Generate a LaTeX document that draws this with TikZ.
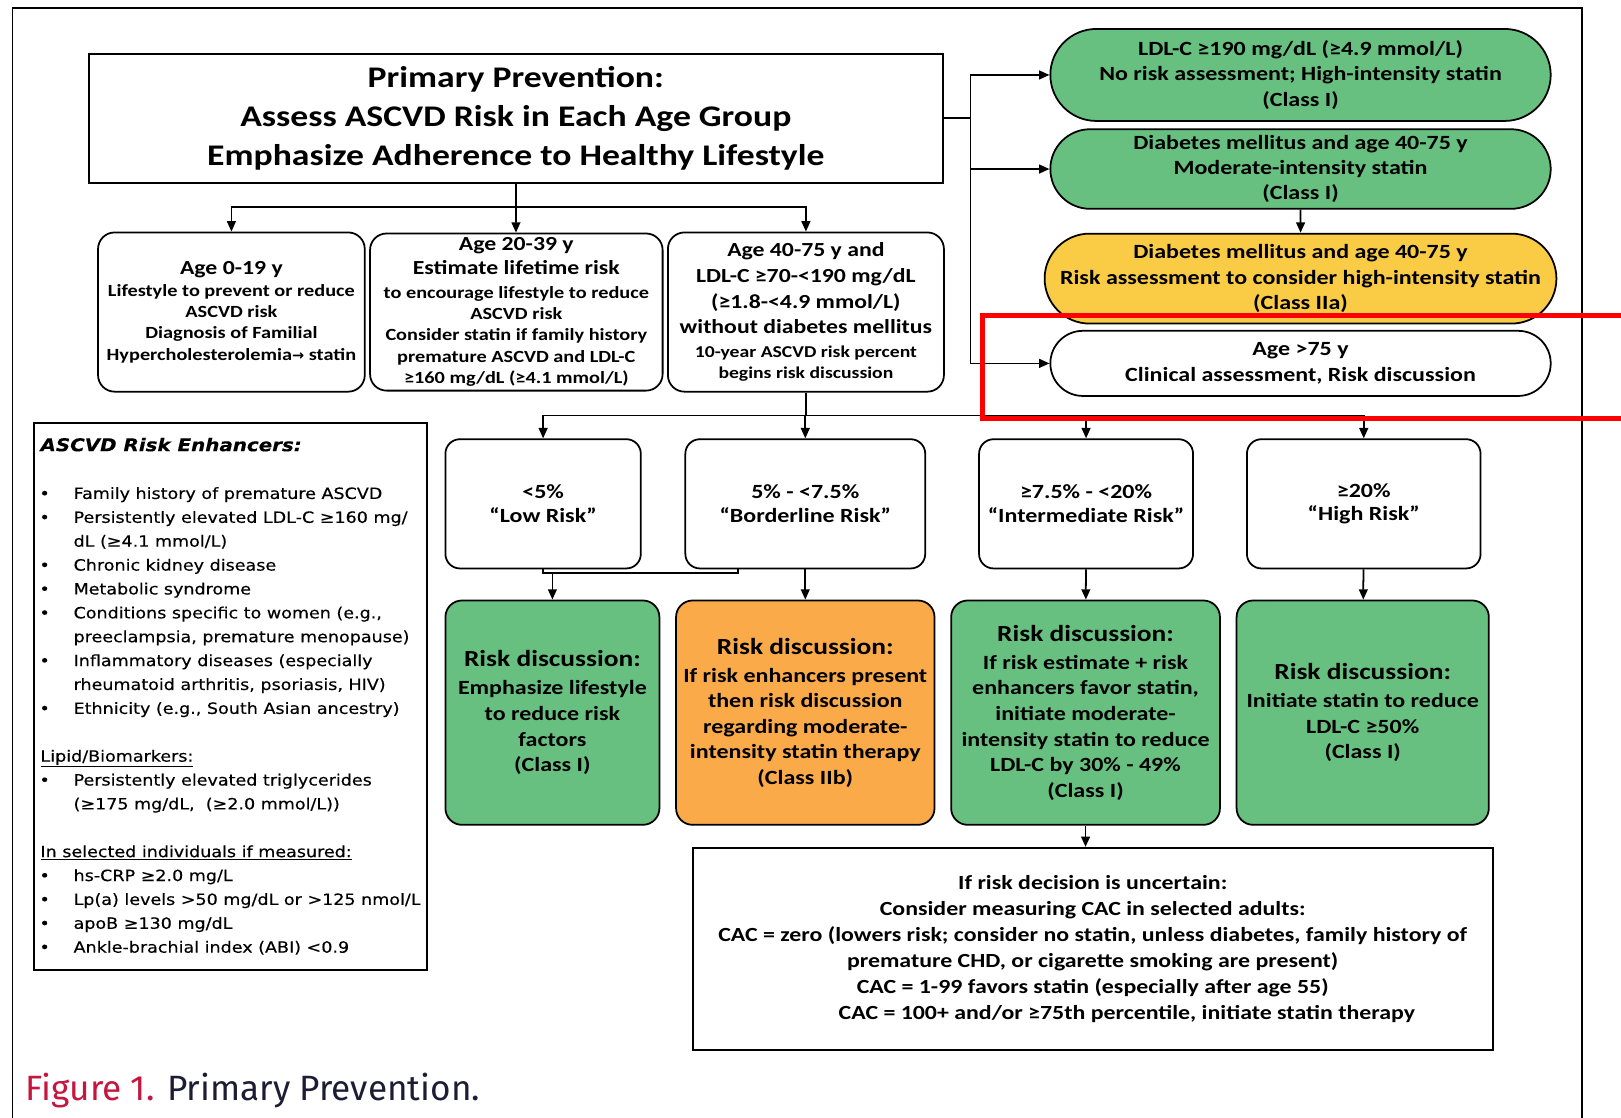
\documentclass[tikz,border=0pt]{standalone}
\usepackage{fontspec}
\setmainfont{Carlito}[FakeStretch=1.19]
\newfontfamily\listfont{DejaVu Sans}[FakeStretch=1.13,FakeBold=0.3]
\newfontfamily\symfont{DejaVu Sans}
\newfontfamily\capfont{Fira Sans}
\usetikzlibrary{positioning,shapes.misc,arrows.meta}

\definecolor{boxgreen}{RGB}{104,192,128}
\definecolor{boxorange}{RGB}{250,170,72}
\definecolor{boxyellow}{RGB}{250,203,68}
\definecolor{figred}{RGB}{196,22,62}
\definecolor{fignavy}{RGB}{28,28,52}

\newcommand{\fs}[2]{\fontsize{#1}{#2}\selectfont}
\newcommand{\bul}{\makebox[32pt][l]{\hspace{-1pt}•}}
\newcommand{\ind}{\hspace*{32pt}}
\newcommand{\rdhead}{{\fs{22.3}{24.7}Risk discussion:}\\[2.5pt]}

\begin{document}
\begin{tikzpicture}[x=1pt,y=-1pt,line width=1.7pt,
    arr/.style={-{Triangle[length=10pt,width=8.5pt]}},
    stadium/.style={draw,rounded rectangle,minimum width=484pt,inner sep=0pt,align=center,font=\bfseries\fs{19.5}{24.5}},
    agebox/.style={draw,rounded corners=16pt,inner sep=2pt,align=center,font=\bfseries\fs{16.5}{20.5}},
    riskbox/.style={draw,rounded corners=14pt,minimum height=125pt,align=center,font=\bfseries\fs{19.5}{23}},
    rdbox/.style={draw,rounded corners=16pt,minimum height=217pt,inner sep=2pt,align=center,font=\bfseries\fs{19.5}{24.7}}]
    \useasboundingbox (0,0) rectangle (1568,1081);
    \fill[white] (0,0) rectangle (1568,1081);
    \draw (12,1090) -- (12,8) -- (1530,8) -- (1530,1090);

    \node (title) [draw,minimum width=826pt,minimum height=125pt,align=center,font=\bfseries\fs{29}{37.5}] at (499,114.5)
        {Primary Prevention:\\Assess ASCVD Risk in Each Age Group\\Emphasize Adherence to Healthy Lifestyle};

    % right column
    \node (g1) [stadium,fill=boxgreen,minimum height=89pt] at (1258,72.5)
        {LDL-C ≥190 mg/dL (≥4.9 mmol/L)\\No risk assessment; High-intensity statin\\(Class I)};
    \node (g2) [stadium,fill=boxgreen,minimum height=77pt] at (1258,163.5)
        {Diabetes mellitus and age 40-75 y\\Moderate-intensity statin\\(Class I)};
    \node (y3) [stadium,fill=boxyellow,minimum height=87pt] at (1258,269.5)
        {Diabetes mellitus and age 40-75 y\\Risk assessment to consider high-intensity statin\\(Class IIa)};
    \node (w4) [stadium,fill=white,minimum height=63pt] at (1258,351.5)
        {Age >75 y\\Clinical assessment, Risk discussion};

    % age groups
    \node (ageA) [agebox,minimum width=258pt,minimum height=154pt,anchor=north west] at (94,224)
        {{\fs{19.3}{20.5}Age 0-19 y}\\[1pt]Lifestyle to prevent or reduce\\ASCVD risk\\Diagnosis of Familial\\Hypercholesterolemia{\symfont\bfseries\fs{14}{20}→} statin};
    \node (ageB) [agebox,minimum width=283pt,minimum height=152pt,right=3.4pt of ageA]
        {{\fs{19.3}{20.5}Age 20-39 y}\\[2.5pt]{\fs{19.3}{20.5}Estimate lifetime risk}\\[2.5pt]to encourage lifestyle to reduce\\ASCVD risk\\Consider statin if family history\\premature ASCVD and LDL-C\\≥160 mg/dL (≥4.1 mmol/L)};
    \node (ageC) [agebox,minimum width=267pt,minimum height=154pt,right=3.4pt of ageB]
        {{\fs{19.3}{20.5}Age 40-75 y and}\\[4.5pt]{\fs{19.3}{20.5}LDL-C ≥70-<190 mg/dL}\\[4.5pt]{\fs{19.3}{20.5}(≥1.8-<4.9 mmol/L)}\\[4.5pt]{\fs{19.3}{20.5}without diabetes mellitus}\\[2.5pt]{\fs{16}{20.5}10-year ASCVD risk percent}\\{\fs{16}{20.5}begins risk discussion}};

    % risk categories
    \node (low) [riskbox,minimum width=189pt,anchor=north west] at (430,424) {<5\%\\“Low Risk”};
    \node (border) [riskbox,minimum width=232pt,right=41.4pt of low] {5\% - <7.5\%\\“Borderline Risk”};
    \node (inter) [riskbox,minimum width=207pt,right=50.4pt of border] {≥7.5\% - <20\%\\“Intermediate Risk”};
    \node (high) [riskbox,minimum width=226pt,right=50.4pt of inter] {≥20\%\\“High Risk”};

    % risk discussions
    \node (rd1) [rdbox,fill=boxgreen,minimum width=207pt,anchor=north west] at (430,580)
        {\rdhead Emphasize lifestyle\\to reduce risk\\factors\\(Class I)};
    \node (rd2) [rdbox,fill=boxorange,minimum width=250pt,right=14.4pt of rd1]
        {\rdhead If risk enhancers present\\then risk discussion\\regarding moderate-\\intensity statin therapy\\(Class IIb)};
    \node (rd3) [rdbox,fill=boxgreen,minimum width=260pt,right=14.4pt of rd2]
        {\rdhead If risk estimate + risk\\enhancers favor statin,\\initiate moderate-\\intensity statin to reduce\\LDL-C by 30\% - 49\%\\(Class I)};
    \node (rd4) [rdbox,fill=boxgreen,minimum width=244pt,right=14.4pt of rd3]
        {\rdhead Initiate statin to reduce\\LDL-C ≥50\%\\(Class I)};

    \node (cac) [draw,minimum width=774pt,minimum height=196pt,align=center,font=\bfseries\fs{19.4}{25}] at (1057,918)
        {If risk decision is uncertain:\\Consider measuring CAC in selected adults:\\CAC = zero (lowers risk; consider no statin, unless diabetes, family history of\\premature CHD, or cigarette smoking are present)\\CAC = 1-99 favors statin (especially after age 55)\hspace*{15pt}\\\hspace*{66pt}CAC = 100+ and/or ≥75th percentile, initiate statin therapy};

    \node (enh) [draw,minimum width=380pt,minimum height=529pt,align=left,inner xsep=4pt,font=\listfont\fs{15}{23.1}] at (223,673.5)
        {{\fs{17}{23.1}\bfseries\itshape ASCVD Risk Enhancers:}\\[23.1pt]
        \bul Family history of premature ASCVD\\
        \bul Persistently elevated LDL-C ≥160 mg/\\
        \ind dL (≥4.1 mmol/L)\\
        \bul Chronic kidney disease\\
        \bul Metabolic syndrome\\
        \bul Conditions specific to women (e.g.,\\
        \ind preeclampsia, premature menopause)\\
        \bul Inflammatory diseases (especially\\
        \ind rheumatoid arthritis, psoriasis, HIV)\\
        \bul Ethnicity (e.g., South Asian ancestry)\\[23.1pt]
        \underline{Lipid/Biomarkers:}\\
        \bul Persistently elevated triglycerides\\
        \ind (≥175 mg/dL,\ \ (≥2.0 mmol/L))\\[23.1pt]
        \underline{In selected individuals if measured:}\\
        \bul hs-CRP ≥2.0 mg/L\\
        \bul Lp(a) levels >50 mg/dL or >125 nmol/L\\
        \bul apoB ≥130 mg/dL\\
        \bul Ankle-brachial index (ABI) <0.9};

    \node (caption) [anchor=west,inner sep=0pt,font=\capfont\fs{34}{38}] at (24,1055)
        {\textcolor{figred}{Figure 1.} \textcolor{fignavy}{Primary Prevention.}};

    % connectors
    \coordinate (tsplit) at (title.south |- 0,200);
    \draw (title) -- (tsplit);
    \draw[arr] (tsplit) -| (ageA);
    \draw[arr] (tsplit) -- (ageB);
    \draw[arr] (tsplit) -| (ageC);

    \draw (title.east) -- ++(26,0) coordinate (rsplit);
    \draw[arr] (rsplit) |- (g1);
    \draw[arr] (rsplit) |- (g2);
    \draw[arr] (rsplit) |- (w4);
    \draw[arr] (g2) -- (y3);

    \coordinate (csplit) at (ageC.south |- 0,402);
    \draw (ageC) -- (csplit);
    \draw[arr] (csplit) -| (low);
    \draw[arr] (csplit) -| (border);
    \draw[arr] (csplit) -| (inter);
    \draw[arr] (csplit) -| (high);

    \coordinate (lowjoin) at (low.south |- 0,554);
    \coordinate (bordjoin) at (714,554);
    \draw (low) -- (lowjoin) -- (bordjoin) -- (bordjoin |- border.south);
    \draw[arr] (rd1.north |- lowjoin) -- (rd1);
    \draw[arr] (border) -- (rd2);
    \draw[arr] (inter) -- (rd3);
    \draw[arr] (high) -- (rd4);
    \draw[arr] (rd3) -- (rd3 |- cac.north);

    % highlight
    \draw[red,line width=5pt] (950,305) rectangle (1580,405);
\end{tikzpicture}
\end{document}
